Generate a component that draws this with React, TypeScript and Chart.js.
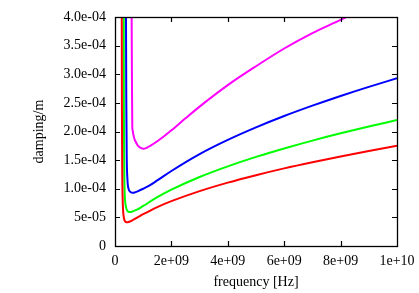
import React, { useEffect, useRef } from "react";
import { Chart, registerables } from "chart.js";

Chart.register(...registerables);

// frequency in units of 1e9 Hz, damping in units of 1e-4 /m
const redX = [0.24, 0.245, 0.255, 0.27, 0.29, 0.32, 0.36, 0.41, 0.48, 0.6, 0.8, 1.0, 1.5, 2, 3, 4, 5, 6, 7, 8, 9, 10];
const redY = [4.0, 2.5, 1.4, 0.85, 0.6, 0.48, 0.43, 0.415, 0.42, 0.445, 0.5, 0.555, 0.68, 0.783, 0.958, 1.107, 1.237, 1.356, 1.464, 1.565, 1.66, 1.75];

const greenX = [0.31, 0.315, 0.325, 0.34, 0.36, 0.4, 0.45, 0.5, 0.57, 0.65, 0.8, 1.0, 1.5, 2, 3, 4, 5, 6, 7, 8, 9, 10];
const greenY = [4.0, 2.5, 1.5, 0.98, 0.78, 0.66, 0.61, 0.595, 0.595, 0.61, 0.64, 0.7, 0.852, 0.984, 1.205, 1.391, 1.556, 1.704, 1.841, 1.968, 2.087, 2.2];

const blueX = [0.39, 0.4, 0.415, 0.44, 0.48, 0.55, 0.62, 0.7, 0.8, 1.0, 1.2, 1.5, 2, 3, 4, 5, 6, 7, 8, 9, 10];
const blueY = [4.0, 2.6, 1.6, 1.17, 1.0, 0.945, 0.93, 0.935, 0.955, 1.0, 1.05, 1.145, 1.31, 1.605, 1.853, 2.072, 2.27, 2.451, 2.621, 2.78, 2.93];

const magentaX = [0.59, 0.6, 0.613, 0.63, 0.649, 0.69, 0.734, 0.8, 0.862, 0.93, 1.0, 1.1, 1.25, 1.5, 1.75, 2.0, 2.5, 3, 4, 5, 6, 7, 8, 8.5];
const magentaY = [4.0, 3.0, 2.08, 2.01, 1.95, 1.87, 1.82, 1.76, 1.73, 1.71, 1.7, 1.71, 1.75, 1.83, 1.92, 2.02, 2.23, 2.435, 2.81, 3.14, 3.45, 3.72, 3.95, 4.07];

const xTickValues = [0, 2, 4, 6, 8, 10];
const xTickLabels = ["0", "2e+09", "4e+09", "6e+09", "8e+09", "1e+10"];
const yTickValues = [0, 0.5, 1, 1.5, 2, 2.5, 3, 3.5, 4];
const yTickLabels = ["0", "5e-05", "1.0e-04", "1.5e-04", "2.0e-04", "2.5e-04", "3.0e-04", "3.5e-04", "4.0e-04"];

const FONT = "'Liberation Serif', 'Times New Roman', serif";

const toPoints = (xs: number[], ys: number[]) => xs.map((x, i) => ({ x, y: ys[i] }));

const framePlugin = {
  id: "frameTicks",
  afterDraw(chart: any) {
    const { ctx, chartArea } = chart;
    const { left, right, top, bottom } = chartArea;
    const xs = chart.scales.x;
    const ys = chart.scales.y;
    const L = 5;
    ctx.save();
    ctx.strokeStyle = "#000";
    ctx.lineWidth = 1.2;
    ctx.beginPath();
    xTickValues.forEach((v) => {
      const px = Math.round(xs.getPixelForValue(v)) + 0.5;
      if (v !== xs.min && v !== xs.max) {
        ctx.moveTo(px, bottom);
        ctx.lineTo(px, bottom - L);
        ctx.moveTo(px, top);
        ctx.lineTo(px, top + L);
      }
    });
    yTickValues.forEach((v) => {
      const py = Math.round(ys.getPixelForValue(v)) + 0.5;
      if (v !== ys.min && v !== ys.max) {
        ctx.moveTo(left, py);
        ctx.lineTo(left + L, py);
        ctx.moveTo(right, py);
        ctx.lineTo(right - L, py);
      }
    });
    ctx.stroke();
    ctx.lineWidth = 1.3;
    ctx.strokeRect(left + 0.5, top + 0.5, right - left, bottom - top);
    ctx.restore();
  },
};

export default function App() {
  const ref = useRef<HTMLCanvasElement>(null);
  useEffect(() => {
    document.body.style.margin = "0";
    const ds = (label: string, xs: number[], ys: number[], color: string) => ({
      label,
      data: toPoints(xs, ys),
      borderColor: color,
      backgroundColor: color,
      borderWidth: 2,
      pointRadius: 0,
      fill: false,
      cubicInterpolationMode: "monotone" as const,
    });
    const chart = new Chart(ref.current!, {
      type: "line",
      data: {
        datasets: [
          ds("red", redX, redY, "#ff0000"),
          ds("green", greenX, greenY, "#00ff00"),
          ds("blue", blueX, blueY, "#0000ff"),
          ds("magenta", magentaX, magentaY, "#ff00ff"),
        ],
      },
      options: {
        animation: false,
        responsive: false,
        layout: { padding: { left: 0, top: 17, right: 22, bottom: 0 } },
        plugins: { legend: { display: false }, tooltip: { enabled: false } },
        scales: {
          x: {
            type: "linear",
            min: 0,
            max: 10,
            grid: { display: false, drawTicks: false },
            border: { display: false },
            afterBuildTicks: (s: any) => {
              s.ticks = xTickValues.map((v) => ({ value: v }));
            },
            afterFit: (s: any) => {
              s.height = 47;
              s.paddingLeft = 0;
              s.paddingRight = 0;
            },
            ticks: {
              autoSkip: false,
              maxRotation: 0,
              padding: 7,
              color: "#000",
              font: { family: FONT, size: 14 },
              callback: (v: any) => xTickLabels[xTickValues.indexOf(Number(v))] ?? "",
            },
            title: {
              display: true,
              text: "frequency [Hz]",
              color: "#000",
              font: { family: FONT, size: 14 },
              padding: { top: 0, bottom: 2 },
            },
          },
          y: {
            type: "linear",
            min: 0,
            max: 4,
            grid: { display: false, drawTicks: false },
            border: { display: false },
            afterBuildTicks: (s: any) => {
              s.ticks = yTickValues.map((v) => ({ value: v }));
            },
            afterFit: (s: any) => {
              s.width = 115;
              s.paddingTop = 0;
              s.paddingBottom = 0;
            },
            ticks: {
              autoSkip: false,
              padding: 9,
              color: "#000",
              font: { family: FONT, size: 14 },
              callback: (v: any) => yTickLabels[yTickValues.indexOf(Number(v))] ?? "",
            },
            title: {
              display: true,
              text: "damping/m",
              color: "#000",
              font: { family: FONT, size: 14 },
              padding: { top: 31, bottom: 0 },
            },
          },
        },
      },
      plugins: [framePlugin],
    });
    return () => chart.destroy();
  }, []);
  return (
    <div style={{ position: "fixed", left: 0, top: 0, width: 419, height: 293, background: "#fff" }}>
      <canvas ref={ref} width={419} height={293} />
    </div>
  );
}
